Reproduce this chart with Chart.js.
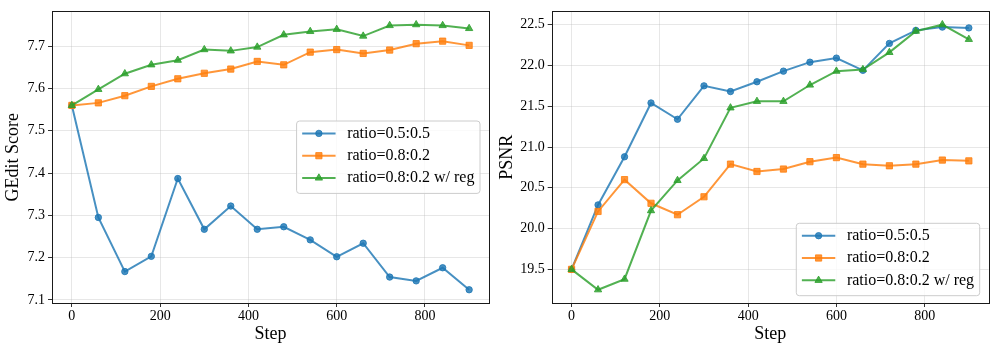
<!DOCTYPE html>
<html>
<head>
<meta charset="utf-8">
<script src="https://cdn.jsdelivr.net/npm/chart.js@4.4.0/dist/chart.umd.min.js"></script>
<style>
  html, body { margin: 0; padding: 0; background: #fff; }
  #wrap { position: relative; width: 996px; height: 351px; }
  .pane { position: absolute; top: 0; height: 351px; }
  #pane_gedit { left: 0; width: 496px; }
  #pane_psnr { left: 496px; width: 500px; }
</style>
</head>
<body>
<div id="wrap">
  <div class="pane" id="pane_gedit"><canvas id="chart_gedit" width="496" height="351"></canvas></div>
  <div class="pane" id="pane_psnr"><canvas id="chart_psnr" width="500" height="351"></canvas></div>
</div>
<script>
// training steps (x axis)
const steps = [0, 60, 120, 180, 240, 300, 360, 420, 480, 540, 600, 660, 720, 780, 840, 900];
const seriesLabels = ['ratio=0.5:0.5', 'ratio=0.8:0.2', 'ratio=0.8:0.2 w/ reg'];

// GEdit score
const geditRatio55 = [7.560, 7.295, 7.167, 7.203, 7.387, 7.267, 7.322, 7.267, 7.273, 7.242, 7.202, 7.234, 7.154, 7.145, 7.176, 7.124];
const geditRatio82 = [7.560, 7.566, 7.583, 7.605, 7.623, 7.636, 7.646, 7.664, 7.656, 7.686, 7.692, 7.683, 7.691, 7.706, 7.712, 7.702];
const geditRatio82Reg = [7.560, 7.598, 7.635, 7.656, 7.667, 7.692, 7.689, 7.698, 7.727, 7.735, 7.740, 7.724, 7.749, 7.751, 7.749, 7.742];

// PSNR
const psnrRatio55 = [19.50, 20.29, 20.88, 21.54, 21.34, 21.75, 21.68, 21.80, 21.93, 22.04, 22.09, 21.94, 22.27, 22.43, 22.47, 22.46];
const psnrRatio82 = [19.50, 20.21, 20.60, 20.31, 20.17, 20.39, 20.79, 20.70, 20.73, 20.82, 20.87, 20.79, 20.77, 20.79, 20.84, 20.83];
const psnrRatio82Reg = [19.50, 19.25, 19.38, 20.22, 20.59, 20.86, 21.48, 21.56, 21.56, 21.76, 21.93, 21.95, 22.16, 22.42, 22.50, 22.32];

// tick labels
const stepTicks = [0, 200, 400, 600, 800];
const geditTicks = [7.1, 7.2, 7.3, 7.4, 7.5, 7.6, 7.7];
const psnrTicks = [19.5, 20.0, 20.5, 21.0, 21.5, 22.0, 22.5];

const SERIF = '"Liberation Serif", "DejaVu Serif", serif';
const colors = ['rgba(31,119,180,0.82)', 'rgba(255,127,14,0.82)', 'rgba(44,160,44,0.82)'];
const markers = [
  { style: 'circle', radius: 3.2 },
  { style: 'rect', radius: 4.4 },
  { style: 'triangle', radius: 4.2 }
];

// matplotlib-like 5% margins
const withMargin = (vals) => {
  const lo = Math.min(...vals), hi = Math.max(...vals);
  const m = (hi - lo) * 0.05;
  return [lo - m, hi + m];
};

const drawMarker = (ctx, style, r, x, y) => {
  ctx.beginPath();
  if (style === 'circle') {
    ctx.arc(x, y, r, 0, Math.PI * 2);
  } else if (style === 'rect') {
    const s = Math.SQRT1_2 * r;
    ctx.rect(x - s, y - s, 2 * s, 2 * s);
  } else {
    let rad = 0;
    for (let i = 0; i < 3; i++) {
      const px = x + Math.sin(rad) * r, py = y - Math.cos(rad) * r;
      if (i === 0) ctx.moveTo(px, py); else ctx.lineTo(px, py);
      rad += Math.PI * 2 / 3;
    }
    ctx.closePath();
  }
  ctx.fill();
  ctx.stroke();
};

// full axes frame + matplotlib style legend box inside the plot
const frameAndLegend = {
  id: 'frameAndLegend',
  afterDraw(chart, args, opts) {
    const { ctx, chartArea: a } = chart;
    ctx.save();
    ctx.strokeStyle = '#1a1a1a';
    ctx.lineWidth = 1;
    ctx.strokeRect(Math.round(a.left) + 0.5, Math.round(a.top) + 0.5,
      Math.round(a.right) - Math.round(a.left), Math.round(a.bottom) - Math.round(a.top));

    ctx.font = '16px ' + SERIF;
    const labels = chart.data.datasets.map(d => d.label);
    const textW = Math.max(...labels.map(t => ctx.measureText(t).width));
    const w = 5.6 + 33.4 + 11.6 + textW + 5.6;
    const h = 72.4;
    const x = a.right - 9 - w;
    const y = opts.where === 'center right' ? (a.top + a.bottom) / 2 - h / 2 : a.bottom - 7.3 - h;

    ctx.beginPath();
    ctx.roundRect(x, y, w, h, 3);
    ctx.fillStyle = 'rgba(255,255,255,0.8)';
    ctx.fill();
    ctx.strokeStyle = '#cccccc';
    ctx.stroke();

    labels.forEach((t, i) => {
      const ry = y + 12.4 + 22.3 * i;
      const lx = x + 5.6;
      ctx.strokeStyle = colors[i];
      ctx.fillStyle = colors[i];
      ctx.lineWidth = 2;
      ctx.beginPath();
      ctx.moveTo(lx, ry);
      ctx.lineTo(lx + 33.4, ry);
      ctx.stroke();
      ctx.lineWidth = 1;
      drawMarker(ctx, markers[i].style, markers[i].radius, lx + 16.7, ry);
      ctx.fillStyle = '#000';
      ctx.textAlign = 'left';
      ctx.textBaseline = 'middle';
      ctx.fillText(t, lx + 33.4 + 11.6, ry);
    });
    ctx.restore();
  }
};

const makeChart = (canvasId, series, yTicks, yTitle, cfg) => {
  const [xMin, xMax] = withMargin(steps);
  const [yMin, yMax] = withMargin(series.flat());
  const datasets = series.map((vals, i) => ({
    label: seriesLabels[i],
    data: vals.map((v, k) => ({ x: steps[k], y: v })),
    borderColor: colors[i],
    backgroundColor: colors[i],
    borderWidth: 2,
    pointStyle: markers[i].style,
    pointRadius: markers[i].radius,
    pointBorderWidth: 1,
    tension: 0,
    order: 3 - i
  }));
  const gridStyle = { color: 'rgba(176,176,176,0.3)', lineWidth: 1, drawTicks: true, tickLength: 4, tickColor: '#333', tickWidth: 1 };
  return new Chart(document.getElementById(canvasId).getContext('2d'), {
    type: 'line',
    data: { datasets },
    options: {
      responsive: false,
      animation: false,
      layout: { padding: { left: 0, top: 7, right: cfg.padRight, bottom: 0 } },
      plugins: {
        legend: { display: false },
        tooltip: { enabled: false },
        frameAndLegend: { where: cfg.legendWhere }
      },
      scales: {
        x: {
          type: 'linear',
          min: xMin,
          max: xMax,
          afterBuildTicks: (s) => { s.ticks = stepTicks.map(v => ({ value: v })); },
          afterFit: (s) => { s.height = 48; },
          grid: gridStyle,
          border: { display: false },
          ticks: { font: { family: SERIF, size: 14 }, color: '#000', padding: 1, maxRotation: 0, callback: (v) => String(v) },
          title: { display: true, text: 'Step', font: { family: SERIF, size: 18 }, color: '#000', padding: { top: 0, bottom: 6 } }
        },
        y: {
          type: 'linear',
          min: yMin,
          max: yMax,
          afterBuildTicks: (s) => { s.ticks = yTicks.map(v => ({ value: v })); },
          afterFit: (s) => { s.width = cfg.yWidth; },
          grid: gridStyle,
          border: { display: false },
          ticks: { font: { family: SERIF, size: 14 }, color: '#000', padding: 3, callback: (v) => Number(v).toFixed(1) },
          title: { display: true, text: yTitle, font: { family: SERIF, size: 18 }, color: '#000', padding: { top: cfg.yTitlePad, bottom: 0 } }
        }
      }
    },
    plugins: [frameAndLegend]
  });
};

makeChart('chart_gedit', [geditRatio55, geditRatio82, geditRatio82Reg], geditTicks, 'GEdit Score',
  { padRight: 7, yWidth: 52, yTitlePad: 2.7, legendWhere: 'center right' });
makeChart('chart_psnr', [psnrRatio55, psnrRatio82, psnrRatio82Reg], psnrTicks, 'PSNR',
  { padRight: 7.3, yWidth: 55.7, yTitlePad: 0.7, legendWhere: 'lower right' });
</script>
</body>
</html>
